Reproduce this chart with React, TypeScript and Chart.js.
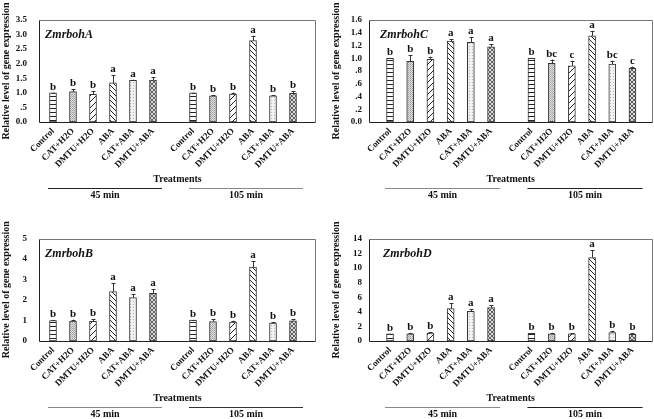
import React, { useEffect, useRef } from "react";
import { Chart, registerables } from "chart.js";
Chart.register(...registerables);

// ---------- data ----------
const treatments = ["Control", "CAT+H2O", "DMTU+H2O", "ABA", "CAT+ABA", "DMTU+ABA"];
const periods = ["45 min", "105 min"];
const xTitle = "Treatments";
const yTitle = "Relative level of gene expression";

// ZmrbohA (45 min x6, then 105 min x6)
const valuesA = [1.0, 1.04, 0.95, 1.34, 1.43, 1.44, 1.0, 0.9, 0.96, 2.79, 0.9, 0.98];
const errorsA = [0.01, 0.08, 0.1, 0.27, 0.02, 0.09, 0.01, 0.03, 0.05, 0.17, 0.01, 0.07];
const lettersA = ["b", "b", "b", "a", "a", "a", "b", "b", "b", "a", "b", "b"];
const ticksA = ["0.0", ".5", "1.0", "1.5", "2.0", "2.5", "3.0", "3.5"];

// ZmrbohC
const valuesC = [1.0, 0.95, 0.985, 1.27, 1.25, 1.18, 1.0, 0.92, 0.88, 1.35, 0.91, 0.84];
const errorsC = [0.005, 0.1, 0.04, 0.03, 0.08, 0.04, 0.005, 0.06, 0.08, 0.08, 0.05, 0.03];
const lettersC = ["b", "b", "b", "a", "a", "a", "b", "bc", "c", "a", "bc", "c"];
const ticksC = ["0.0", ".2", ".4", ".6", ".8", "1.0", "1.2", "1.4", "1.6"];

// ZmrbohB
const valuesB = [1.0, 0.97, 0.96, 2.41, 2.12, 2.32, 1.02, 0.95, 0.92, 3.6, 0.88, 0.99];
const errorsB = [0.01, 0.07, 0.1, 0.42, 0.17, 0.2, 0.01, 0.1, 0.07, 0.3, 0.05, 0.06];
const lettersB = ["b", "b", "b", "a", "a", "a", "b", "b", "b", "a", "b", "b"];
const ticksB = ["0", "1", "2", "3", "4", "5"];

// ZmrbohD
const valuesD = [1.0, 1.0, 1.1, 4.45, 4.08, 4.6, 1.05, 1.0, 1.0, 11.45, 1.15, 0.92];
const errorsD = [0.02, 0.05, 0.1, 0.7, 0.3, 0.28, 0.05, 0.12, 0.04, 1.0, 0.25, 0.15];
const lettersD = ["b", "b", "b", "a", "a", "a", "b", "b", "b", "a", "b", "b"];
const ticksD = ["0", "2", "4", "6", "8", "10", "12", "14"];

// ---------- styling / layout ----------
const FONT = '"Liberation Serif", "Times New Roman", serif';
const INK = "#111";

type Panel = {
  name: string;
  values: number[];
  errors: number[];
  letters: string[];
  ticks: string[];
  yMax: number;
  left: number;
  top: number;
  width: number;
  height: number;
  padTop: number;
  padRight: number;
  yWidth: number;
  yPad: number;
  xHeight: number;
  xMin: number;
  xMax: number;
  nameDx: number;
  lineColors: string[];
};

const panels: Panel[] = [
  {
    name: "ZmrbohA", values: valuesA, errors: errorsA, letters: lettersA, ticks: ticksA, yMax: 3.5,
    left: 0, top: 0, width: 327, height: 210, padTop: 20, padRight: 11, yWidth: 39, yPad: 12,
    xHeight: 88, xMin: 0.3, xMax: 14.15, nameDx: 6, lineColors: ["#222", "#888"],
  },
  {
    name: "ZmrbohC", values: valuesC, errors: errorsC, letters: lettersC, ticks: ticksC, yMax: 1.6,
    left: 330, top: 0, width: 324, height: 210, padTop: 20, padRight: 1.5, yWidth: 39, yPad: 7,
    xHeight: 88, xMin: -0.04, xMax: 13.99, nameDx: 11, lineColors: ["#888", "#222"],
  },
  {
    name: "ZmrbohB", values: valuesB, errors: errorsB, letters: lettersB, ticks: ticksB, yMax: 5,
    left: 0, top: 210, width: 327, height: 209, padTop: 28.5, padRight: 11, yWidth: 39, yPad: 12,
    xHeight: 78, xMin: 0.3, xMax: 14.15, nameDx: 6, lineColors: ["#888", "#333"],
  },
  {
    name: "ZmrbohD", values: valuesD, errors: errorsD, letters: lettersD, ticks: ticksD, yMax: 14,
    left: 330, top: 210, width: 324, height: 209, padTop: 29, padRight: 1.5, yWidth: 39, yPad: 7,
    xHeight: 78, xMin: -0.04, xMax: 13.99, nameDx: 14, lineColors: ["#888", "#222"],
  },
];

// slot on the x axis for bar i: 1..6 (45 min), 8..13 (105 min)
const slotOf = (i: number) => (i < treatments.length ? i + 1 : i + 2);
const groupSpans = [
  [0.75, 6.45],
  [7.8, 13.5],
];

function makePatterns(ctx: CanvasRenderingContext2D) {
  const mk = (size: number, draw: (g: CanvasRenderingContext2D) => void) => {
    const c = document.createElement("canvas");
    c.width = size;
    c.height = size;
    const g = c.getContext("2d")!;
    draw(g);
    return ctx.createPattern(c, "repeat")!;
  };
  const px = (g: CanvasRenderingContext2D, x: number, y: number, col: string) => {
    g.fillStyle = col;
    g.fillRect(x, y, 1, 1);
  };
  return [
    // Control: horizontal lines
    mk(4, (g) => {
      g.fillStyle = "#fff";
      g.fillRect(0, 0, 4, 4);
      g.fillStyle = "#222";
      g.fillRect(0, 0, 4, 1);
    }),
    // CAT+H2O: gray stipple
    mk(2, (g) => {
      g.fillStyle = "#e2e2e2";
      g.fillRect(0, 0, 2, 2);
      px(g, 0, 0, "#9a9a9a");
      px(g, 1, 1, "#b0b0b0");
    }),
    // DMTU+H2O: forward diagonal
    mk(6, (g) => {
      g.fillStyle = "#fff";
      g.fillRect(0, 0, 6, 6);
      for (let i = 0; i < 6; i++) px(g, i, 5 - i, "#222");
    }),
    // ABA: backward diagonal
    mk(5, (g) => {
      g.fillStyle = "#fff";
      g.fillRect(0, 0, 5, 5);
      for (let i = 0; i < 5; i++) px(g, i, i, "#222");
    }),
    // CAT+ABA: very light stipple
    mk(3, (g) => {
      g.fillStyle = "#f2f2f2";
      g.fillRect(0, 0, 3, 3);
      px(g, 1, 1, "#b4b4b4");
    }),
    // DMTU+ABA: crosshatch
    mk(4, (g) => {
      g.fillStyle = "#dcdcdc";
      g.fillRect(0, 0, 4, 4);
      for (let i = 0; i < 4; i++) {
        px(g, i, i, "#606060");
        px(g, i, 3 - i, "#606060");
      }
    }),
  ];
}

function makeOverlay(p: Panel) {
  return {
    id: "overlay_" + p.name,
    afterDatasetsDraw(chart: any) {
      const { ctx, chartArea: ca } = chart;
      const ys = chart.scales.y;
      const xs = chart.scales.x;
      const meta = chart.getDatasetMeta(0);
      ctx.save();
      // error bars + letters
      meta.data.forEach((bar: any, i: number) => {
        const v = p.values[i];
        const e = p.errors[i];
        const yTop = ys.getPixelForValue(v);
        const yErr = ys.getPixelForValue(v + e);
        const x = Math.round(bar.x) + 0.5;
        ctx.strokeStyle = "#333";
        ctx.lineWidth = 1;
        ctx.beginPath();
        ctx.moveTo(x, yTop);
        ctx.lineTo(x, yErr);
        const yc = Math.round(yErr) + 0.5;
        ctx.moveTo(x - 2, yc);
        ctx.lineTo(x + 2, yc);
        ctx.stroke();
        ctx.fillStyle = INK;
        ctx.font = "bold 11px " + FONT;
        ctx.textAlign = "center";
        ctx.textBaseline = "alphabetic";
        ctx.fillText(p.letters[i], bar.x, Math.min(yErr, yTop) - 3);
      });
      // frame
      const l = Math.round(ca.left) + 0.5;
      const r = Math.round(ca.right) - 0.5;
      const t = Math.round(ca.top) + 0.5;
      const b = Math.round(ca.bottom) + 0.5;
      ctx.lineWidth = 1;
      ctx.strokeStyle = "#777";
      ctx.beginPath();
      ctx.moveTo(l, t);
      ctx.lineTo(r, t);
      ctx.lineTo(r, b);
      ctx.stroke();
      ctx.strokeStyle = "#222";
      ctx.beginPath();
      ctx.moveTo(l, t);
      ctx.lineTo(l, b);
      ctx.lineTo(r, b);
      ctx.stroke();
      // gene name
      ctx.fillStyle = INK;
      ctx.font = "italic bold 12px " + FONT;
      ctx.textAlign = "left";
      ctx.textBaseline = "alphabetic";
      ctx.fillText(p.name, ca.left + p.nameDx, ca.top + 18);
      // axis title
      ctx.font = "bold 10px " + FONT;
      ctx.textAlign = "center";
      ctx.textBaseline = "middle";
      ctx.fillText(xTitle, (ca.left + ca.right) / 2, ca.bottom + 57);
      // groups
      groupSpans.forEach((s, gi) => {
        const x1 = xs.getPixelForValue(s[0]);
        const x2 = xs.getPixelForValue(s[1]);
        const y = Math.round(ca.bottom + 66) + 0.5;
        ctx.strokeStyle = p.lineColors[gi];
        ctx.beginPath();
        ctx.moveTo(x1, y);
        ctx.lineTo(x2, y);
        ctx.stroke();
        ctx.fillStyle = INK;
        ctx.fillText(periods[gi], (x1 + x2) / 2, ca.bottom + 73.5);
      });
      ctx.restore();
    },
  };
}

function PanelChart({ p }: { p: Panel }) {
  const ref = useRef<HTMLCanvasElement | null>(null);
  useEffect(() => {
    const canvas = ref.current!;
    const ctx = canvas.getContext("2d")!;
    const patterns = makePatterns(ctx);
    const step = p.yMax / (p.ticks.length - 1);
    const chart = new Chart(canvas, {
      type: "bar",
      data: {
        datasets: [
          {
            data: p.values.map((v, i) => ({ x: slotOf(i), y: v })),
            backgroundColor: p.values.map((_, i) => patterns[i % treatments.length]),
            borderColor: "#333",
            borderWidth: 1,
            borderSkipped: false,
            barThickness: 7,
          } as any,
        ],
      },
      options: {
        responsive: false,
        animation: false,
        layout: { padding: { top: p.padTop, right: p.padRight, bottom: 0, left: 0 } },
        plugins: { legend: { display: false }, tooltip: { enabled: false } },
        scales: {
          x: {
            type: "linear",
            min: p.xMin,
            max: p.xMax,
            offset: false,
            grid: { display: false, drawTicks: false },
            border: { display: false },
            ticks: {
              stepSize: 1,
              autoSkip: false,
              includeBounds: false,
              maxRotation: 45,
              minRotation: 45,
              padding: 4,
              color: INK,
              font: { family: FONT, size: 9, weight: "bold" },
              callback: (v: any) => {
                const n = Math.round(Number(v));
                if (Math.abs(n - Number(v)) > 1e-6) return "";
                if (n >= 1 && n <= 6) return treatments[n - 1];
                if (n >= 8 && n <= 13) return treatments[n - 8];
                return "";
              },
            },
            afterFit: (s: any) => {
              s.height = p.xHeight;
            },
          },
          y: {
            min: 0,
            max: p.yMax,
            grid: { display: false, drawTicks: false },
            border: { display: false },
            ticks: {
              stepSize: step,
              autoSkip: false,
              padding: p.yPad,
              color: INK,
              font: { family: FONT, size: 9, weight: "bold" },
              callback: (v: any) => p.ticks[Math.round(Number(v) / step)] ?? "",
            },
            title: {
              display: true,
              text: yTitle,
              color: INK,
              padding: 0,
              font: { family: FONT, size: 10, weight: "bold" },
            },
            afterFit: (s: any) => {
              s.width = p.yWidth;
            },
          },
        },
      } as any,
      plugins: [makeOverlay(p)],
    });
    return () => chart.destroy();
  }, [p]);
  return (
    <canvas
      ref={ref}
      width={p.width}
      height={p.height}
      style={{ position: "absolute", left: p.left, top: p.top, width: p.width, height: p.height }}
    />
  );
}

export default function App() {
  return (
    <div style={{ position: "fixed", left: 0, top: 0, width: 654, height: 419, background: "#fff", overflow: "hidden" }}>
      {panels.map((p) => (
        <PanelChart key={p.name} p={p} />
      ))}
    </div>
  );
}
